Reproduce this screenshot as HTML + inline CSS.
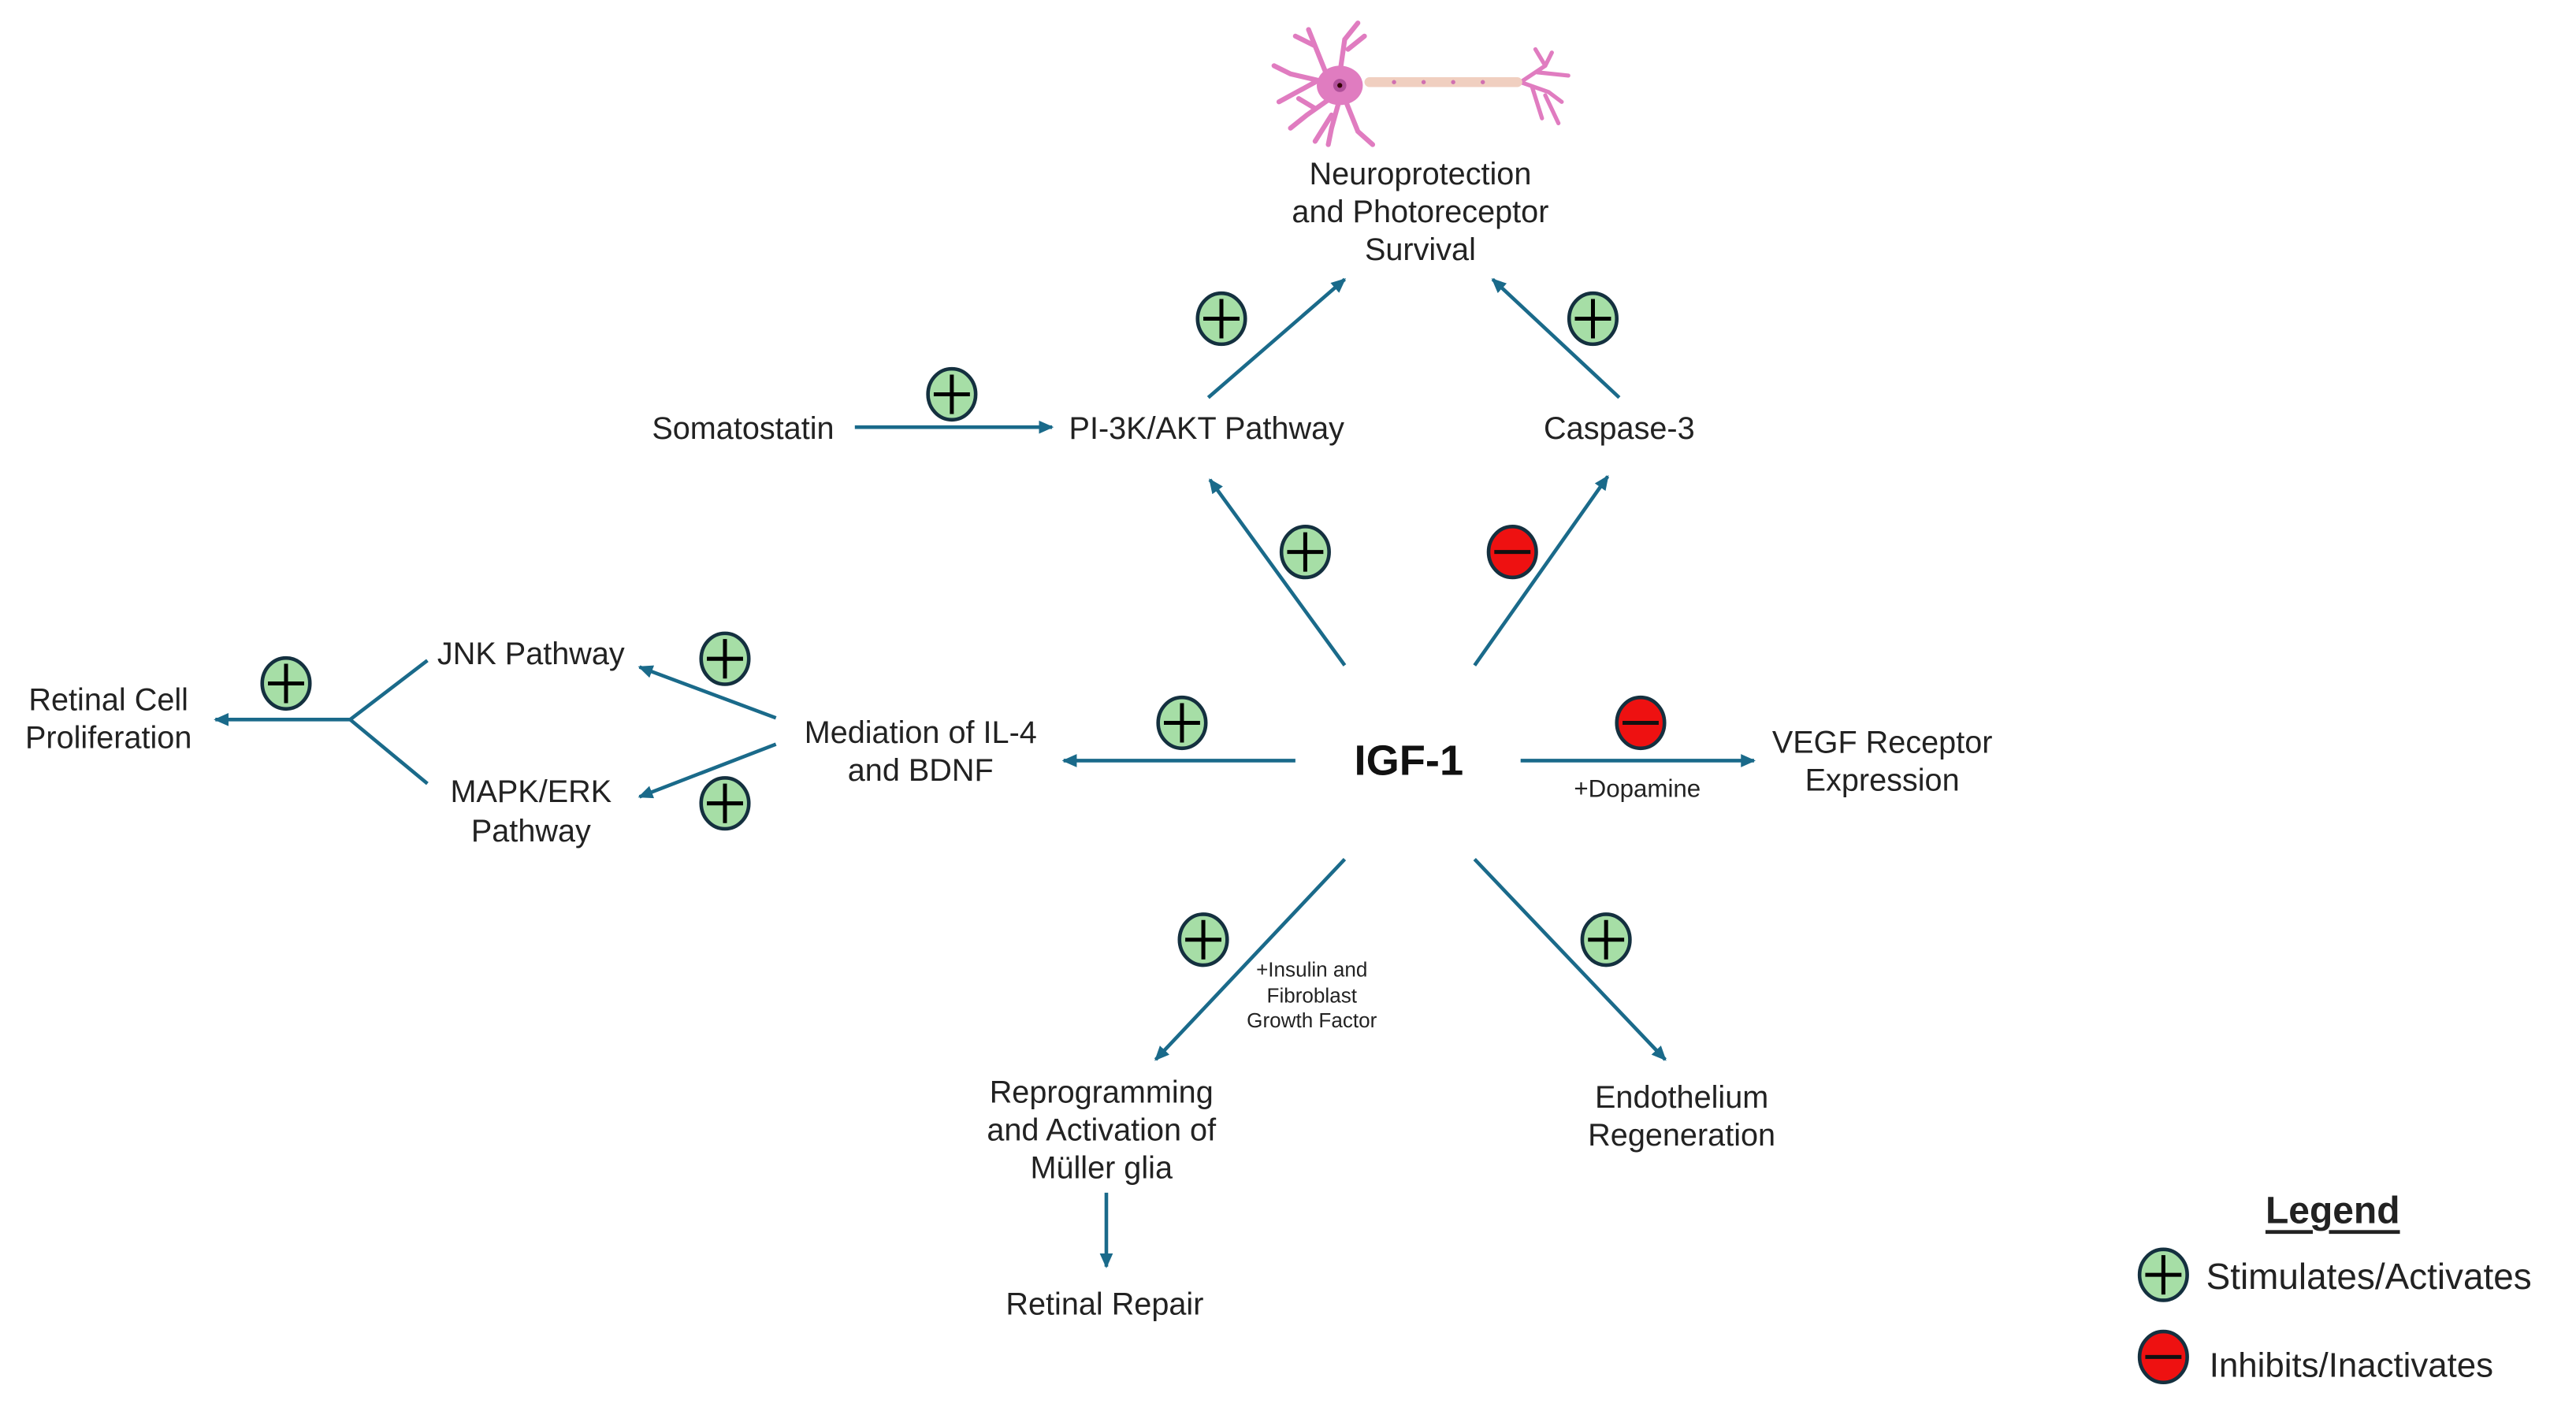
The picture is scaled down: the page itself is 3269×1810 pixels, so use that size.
<!DOCTYPE html>
<html><head><meta charset="utf-8"><style>
html,body{margin:0;padding:0;background:#fff;}
svg{display:block;}
text{font-family:"Liberation Sans",Arial,sans-serif;fill:#222;dominant-baseline:central;text-anchor:middle;}
</style></head><body>
<svg width="3269" height="1810" viewBox="0 0 1567 868" preserveAspectRatio="none" xmlns="http://www.w3.org/2000/svg">
<defs>
<marker id="ah" markerWidth="10" markerHeight="10" refX="8" refY="5" orient="auto" markerUnits="userSpaceOnUse">
<path d="M0,1 L9,5 L0,9 Z" fill="#1a6a8a"/>
</marker>
<g id="plus"><ellipse cx="0" cy="0" rx="14.5" ry="15.5" fill="#a6dea6" stroke="#14303f" stroke-width="2.2"/><path d="M-11,0 H11 M0,-12 V12" stroke="#000" stroke-width="2.4"/></g>
<g id="minus"><ellipse cx="0" cy="0" rx="14.5" ry="15.5" fill="#ee1111" stroke="#14303f" stroke-width="2.2"/><path d="M-11,0 H11" stroke="#111" stroke-width="2.4"/></g>
</defs>

<!-- neuron -->
<g stroke="#e07cc0" stroke-linecap="round" fill="none">
<path d="M815,52 L785,45 L775,40 M800,50 L778,62 M808,48 L800,28 L796,18 M800,28 L788,22 M815,45 L818,24 L826,14 M820,30 L830,22 M812,58 L795,70 L785,78 M800,66 L790,60 M815,60 L810,78 L808,88 M818,60 L826,80 L835,88 M810,70 L800,86" stroke-width="3"/>
<path d="M925,50 L940,40 L944,32 M935,44 L954,46 M925,50 L942,56 L950,62 M932,53 L938,72 M940,58 L948,75 M940,40 L934,30" stroke-width="2.5"/>
</g>
<ellipse cx="815" cy="52" rx="14" ry="12" fill="#e07cc0"/>
<circle cx="815" cy="52" r="4" fill="#b0509a"/><circle cx="815" cy="52" r="1.5" fill="#300"/>
<rect x="830" y="47" width="96" height="6" rx="3" fill="#f0cfc0"/>
<g fill="#d070b0"><circle cx="848" cy="50" r="1.3"/><circle cx="866" cy="50" r="1.3"/><circle cx="884" cy="50" r="1.3"/><circle cx="902" cy="50" r="1.3"/></g>

<!-- connectors -->
<g stroke="#1a6a8a" stroke-width="2.2" fill="none" marker-end="url(#ah)">
<line x1="520" y1="260" x2="640" y2="260"/>
<line x1="735" y1="242" x2="818" y2="170"/>
<line x1="985" y1="242" x2="908" y2="170"/>
<line x1="818" y1="405" x2="736" y2="292"/>
<line x1="897" y1="405" x2="978" y2="290"/>
<line x1="788" y1="463" x2="647" y2="463"/>
<line x1="925" y1="463" x2="1067" y2="463"/>
<line x1="818" y1="523" x2="703" y2="645"/>
<line x1="897" y1="523" x2="1013" y2="645"/>
<line x1="472" y1="437" x2="389" y2="406"/>
<line x1="472" y1="453" x2="389" y2="485"/>
<line x1="213" y1="438" x2="131" y2="438"/>
<line x1="673" y1="726" x2="673" y2="771"/>
</g>
<path d="M260,402 L213,438 L260,477" stroke="#1a6a8a" stroke-width="2.2" fill="none"/>

<!-- symbols -->
<use href="#plus" x="579" y="240"/>
<use href="#plus" x="743" y="194"/>
<use href="#plus" x="969" y="194"/>
<use href="#plus" x="794" y="336"/>
<use href="#minus" x="920" y="336"/>
<use href="#plus" x="719" y="440"/>
<use href="#minus" x="998" y="440"/>
<use href="#plus" x="732" y="572"/>
<use href="#plus" x="977" y="572"/>
<use href="#plus" x="441" y="401"/>
<use href="#plus" x="441" y="489"/>
<use href="#plus" x="174" y="416"/>
<use href="#plus" x="1316" y="776"/>
<use href="#minus" x="1316" y="826"/>

<!-- labels -->
<g font-size="19">
<text x="864" y="106">Neuroprotection</text>
<text x="864" y="129">and Photoreceptor</text>
<text x="864" y="152">Survival</text>
<text x="452" y="261">Somatostatin</text>
<text x="734" y="261">PI-3K/AKT Pathway</text>
<text x="985" y="261">Caspase-3</text>
<text x="66" y="426">Retinal Cell</text>
<text x="66" y="449">Proliferation</text>
<text x="323" y="398">JNK Pathway</text>
<text x="323" y="482">MAPK/ERK</text>
<text x="323" y="506">Pathway</text>
<text x="560" y="446">Mediation of IL-4</text>
<text x="560" y="469">and BDNF</text>
<text x="1145" y="452">VEGF Receptor</text>
<text x="1145" y="475">Expression</text>
<text x="670" y="665">Reprogramming</text>
<text x="670" y="688">and Activation of</text>
<text x="670" y="711">Müller glia</text>
<text x="1023" y="668">Endothelium</text>
<text x="1023" y="691">Regeneration</text>
<text x="672" y="794">Retinal Repair</text>
</g>
<text x="857" y="463" font-size="26" font-weight="bold" style="fill:#111">IGF-1</text>
<text x="996" y="480" font-size="15">+Dopamine</text>
<g font-size="12.5">
<text x="798" y="590">+Insulin and</text>
<text x="798" y="606">Fibroblast</text>
<text x="798" y="621">Growth Factor</text>
</g>
<text x="1419" y="737" font-size="23" font-weight="bold" text-decoration="underline">Legend</text>
<text x="1342" y="777" font-size="22" style="text-anchor:start">Stimulates/Activates</text>
<text x="1344" y="831" font-size="21" style="text-anchor:start">Inhibits/Inactivates</text>
</svg>
</body></html>
